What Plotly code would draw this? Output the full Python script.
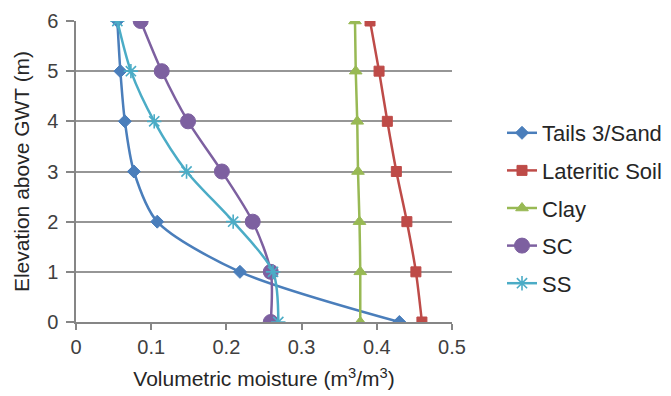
import plotly.graph_objects as go

# Elevation above the groundwater table (m)
elevation = [0, 1, 2, 3, 4, 5, 6]

# Volumetric moisture content (m3/m3) per soil profile
tails_sand = [0.430, 0.218, 0.108, 0.077, 0.065, 0.059, 0.055]
lateritic_soil = [0.460, 0.452, 0.440, 0.426, 0.414, 0.403, 0.391]
clay = [0.378, 0.378, 0.377, 0.375, 0.374, 0.372, 0.371]
sc = [0.259, 0.259, 0.235, 0.194, 0.149, 0.114, 0.086]
ss = [0.269, 0.262, 0.209, 0.147, 0.104, 0.073, 0.055]

series = [
    ("Tails 3/Sand", tails_sand, "#4A7EBB", "diamond", 10, 1),
    ("Lateritic Soil", lateritic_soil, "#BE4B48", "square", 10, 1),
    ("Clay", clay, "#98B954", "triangle-up", 11, 1),
    ("SC", sc, "#7D60A0", "circle", 15, 1),
    ("SS", ss, "#4BACC6", "asterisk-open", 12, 1.6),
]

fig = go.Figure()
for name, values, color, symbol, size, lw in series:
    fig.add_trace(go.Scatter(
        x=values, y=elevation, name=name, legendgroup=name,
        mode="lines+markers",
        line=dict(color=color, width=2.5, shape="spline", smoothing=0.8),
        marker=dict(symbol=symbol, size=size, color=color,
                    line=dict(color=color, width=lw)),
    ))

family = "Liberation Sans, Arial, sans-serif"

fig.update_layout(
    width=671, height=396,
    margin=dict(l=76, r=219, t=21, b=74),
    paper_bgcolor="white", plot_bgcolor="white",
    font=dict(family=family, size=20, color="#404040"),
    showlegend=True,
    # legend placed in container coordinates to the right of the plot area
    legend=dict(xref="container", yref="container",
                x=502 / 671, y=1 - 208 / 396, xanchor="left", yanchor="middle",
                font=dict(family=family, size=22, color="#262626"),
                tracegroupgap=6, itemwidth=30, bgcolor="rgba(0,0,0,0)"),
    xaxis=dict(
        range=[0, 0.5], dtick=0.1, tickformat="~g",
        automargin=False,
        showgrid=False, zeroline=False,
        showline=True, linecolor="#868686", linewidth=1.5,
        ticks="outside", ticklen=6, tickcolor="#868686", tickwidth=1.5,
        title=dict(text="Volumetric moisture (m<sup>3</sup>/m<sup>3</sup>)",
                   font=dict(family=family, size=21, color="#262626"), standoff=15),
        tickfont=dict(family=family, size=20, color="#404040"),
    ),
    yaxis=dict(
        range=[0, 6], dtick=1,
        automargin=False,
        showgrid=True, gridcolor="#969696", gridwidth=1.5,
        zeroline=False,
        showline=True, linecolor="#868686", linewidth=1.5,
        ticks="outside", ticklen=8, tickcolor="#868686", tickwidth=1.5,
        ticklabelstandoff=4,
        title=dict(text="Elevation above GWT (m)",
                   font=dict(family=family, size=21, color="#262626"), standoff=12),
        tickfont=dict(family=family, size=20, color="#404040"),
    ),
)

fig.write_html("out.html")
